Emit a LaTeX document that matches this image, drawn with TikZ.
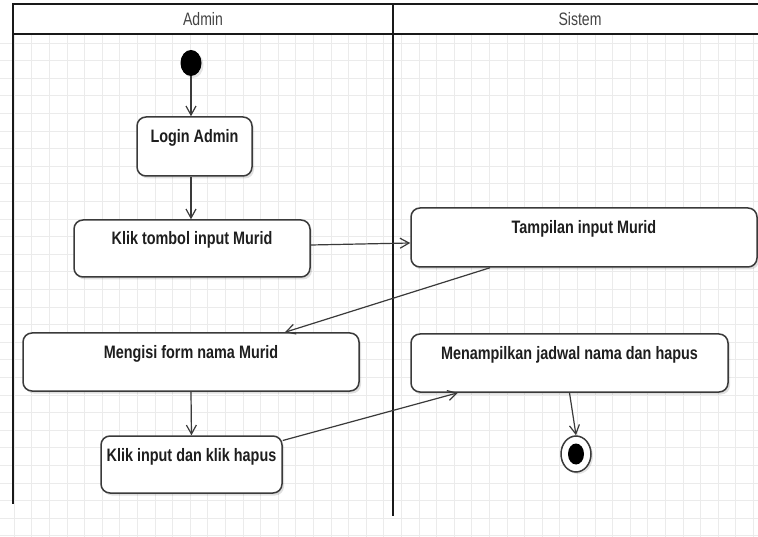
\documentclass[tikz,border=0pt]{standalone}
\usepackage{fontspec}
\usetikzlibrary{arrows.meta,shapes.geometric,shadows}
\newfontfamily\boxfont[FakeStretch=0.8]{Liberation Sans}
\newfontfamily\lanefont[FakeStretch=0.78]{Liberation Sans}
\definecolor{gridc}{HTML}{EBEBEB}
\definecolor{edgec}{HTML}{3A3A3A}
\definecolor{txtc}{HTML}{1E1E1E}
\definecolor{headc}{HTML}{444444}
\begin{document}
\begin{tikzpicture}[x=1pt,y=-1pt,
  gridline/.style={draw=gridc,line width=0.8pt},
  lane/.style={draw=black!90,line width=2pt,line cap=rect},
  act/.style={draw=edgec,line width=1.5pt,rounded corners=9pt,fill=white,
    inner sep=0pt,
    drop shadow={shadow xshift=2pt,shadow yshift=-2.5pt,opacity=0.12,fill=black}},
  acttext/.style={font={\boxfont\bfseries\fontsize{18}{20}\selectfont},
    text=txtc,inner sep=0pt,anchor=base},
  lanetext/.style={font={\lanefont\fontsize{18}{20}\selectfont},
    text=headc,inner sep=0pt},
  flow/.style={draw=edgec,line width=1.2pt,
    -{Straight Barb[length=9pt,width=10pt,line width=1.2pt]}},
]
\useasboundingbox (0,0) rectangle (758,537);
\fill[white] (0,0) rectangle (758,537);

% background grid
\foreach \i in {0,...,42}
  \draw[gridline] ({14.1+17.6*\i},34) -- ({14.1+17.6*\i},537);
\foreach \j in {1,...,29}
  \draw[gridline] (0,{25.4+17.6*\j}) -- (758,{25.4+17.6*\j});

% swimlanes
\draw[lane] (13,503) -- (13,4) -- (758,4);
\draw[lane] (13,34) -- (758,34);
\draw[lane] (393,4) -- (393,515);
\node[lanetext] (hadmin) at (203,19) {Admin};
\node[lanetext] (hsistem) at (580,19) {Sistem};

% initial and final states
\node[ellipse,fill=black,minimum width=21pt,minimum height=26pt,inner sep=0pt,
  drop shadow={shadow xshift=2pt,shadow yshift=-2pt,opacity=0.1,fill=black}]
  (start) at (191,63) {};
\node[ellipse,draw=edgec,line width=1.5pt,fill=white,minimum width=30pt,
  minimum height=36pt,inner sep=0pt,
  drop shadow={shadow xshift=2pt,shadow yshift=-2pt,opacity=0.1,fill=black}]
  (finish) at (576,454) {};
\node[ellipse,fill=black,minimum width=16pt,minimum height=21pt,inner sep=0pt]
  (finishdot) at (finish.center) {};

% activities
\node[act,minimum width=115pt,minimum height=59pt] (login) at (194.5,146.5) {};
\node[act,minimum width=236pt,minimum height=57pt] (klik) at (192,248.5) {};
\node[act,minimum width=346pt,minimum height=59pt] (tampilan) at (584,237.5) {};
\node[act,minimum width=336pt,minimum height=58pt] (mengisi) at (191,362) {};
\node[act,minimum width=181pt,minimum height=57pt] (klikinput) at (191.5,464.5) {};
\node[act,minimum width=317pt,minimum height=58pt] (menampilkan) at (569.5,363) {};

\node[acttext] (tlogin) at ([yshift=3.5pt]login.center) {Login Admin};
\node[acttext] (tklik) at ([yshift=3.5pt]klik.center) {Klik tombol input Murid};
\node[acttext] (ttampilan) at ([yshift=3.5pt]tampilan.center) {Tampilan input Murid};
\node[acttext] (tmengisi) at ([yshift=3.5pt]mengisi.center) {Mengisi form nama Murid};
\node[acttext] (tklikinput) at ([yshift=3.5pt]klikinput.center) {Klik input dan klik hapus};
\node[acttext] (tmenampilkan) at ([yshift=3.5pt]menampilkan.center) {Menampilkan jadwal nama dan hapus};

% transitions
\draw[flow] (start.south) -- (start.south |- login.north);
\draw[flow] (login.south -| start) -- (klik.north -| start);
\draw[flow] ([yshift=3.5pt]klik.east) -- ([yshift=-5.5pt]tampilan.west);
\draw[flow] ([xshift=-94pt]tampilan.south) -- ([xshift=94pt]mengisi.north);
\draw[flow] (mengisi.south) -- (klikinput.north);
\draw[flow] ([yshift=24pt]klikinput.east) -- ([xshift=-111.5pt]menampilkan.south);
\draw[flow] (menampilkan.south) -- (finish.north);
\end{tikzpicture}
\end{document}
